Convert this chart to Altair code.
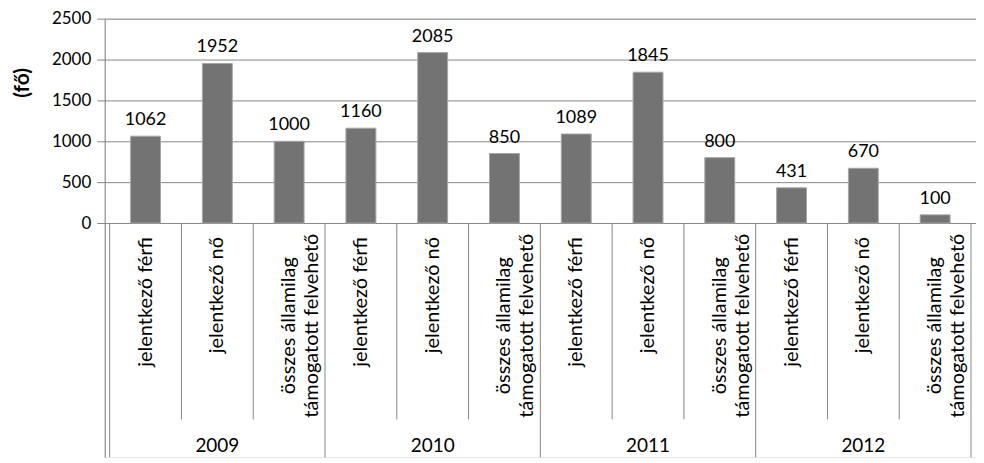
import altair as alt
import pandas as pd

years = ["2009", "2010", "2011", "2012"]
categories = ["jelentkező férfi", "jelentkező nő", "összes államilag\ntámogatott felvehető"]
values_2009 = [1062, 1952, 1000]
values_2010 = [1160, 2085, 850]
values_2011 = [1089, 1845, 800]
values_2012 = [431, 670, 100]
y_ticks = [0, 500, 1000, 1500, 2000, 2500]

all_values = [values_2009, values_2010, values_2011, values_2012]

rows = []
for gi, (yr, vals) in enumerate(zip(years, all_values)):
    for ci, (cat, v) in enumerate(zip(categories, vals)):
        idx = gi * len(categories) + ci
        rows.append({"year": yr, "cat": cat, "value": v, "center": idx + 0.5,
                     "multi": "\n" in cat})
df = pd.DataFrame(rows)
n = len(df)
ncat = len(categories)

year_df = pd.DataFrame({"year": years,
                        "center": [i * ncat + ncat / 2 for i in range(len(years))]})
inner_df = pd.DataFrame({"b": [i for i in range(1, n) if i % ncat != 0]})
group_df = pd.DataFrame({"b": [i for i in range(0, n + 1) if i % ncat == 0]})

TOP = 10           # top padding (page y of plot top = 8 + TOP)
W, H = 874, 440
ZERO_PX = 223 - 8 - TOP   # pixels from top of plot to the zero line
Y_MAX = 2500
Y_MIN = -(H - ZERO_PX) * Y_MAX / ZERO_PX

FONT = "Lato"
GRAY = "#878787"

xs = alt.Scale(domain=[0, n], nice=False, zero=False)
ys = alt.Scale(domain=[Y_MIN, Y_MAX], nice=False, zero=False)

bars = alt.Chart(df).mark_bar(size=30, color="#737373", stroke="#a6a6a6", strokeWidth=1).encode(
    x=alt.X("center:Q", scale=xs, axis=None),
    y=alt.Y("value:Q", scale=ys, axis=alt.Axis(
        values=y_ticks, format="d", grid=True, gridColor=GRAY, gridWidth=1,
        tickColor=GRAY, tickSize=8, domainColor=GRAY,
        labelFont=FONT, labelFontSize=17, labelColor="#000000", labelPadding=6,
        title="(fő)", titleFont=FONT, titleFontSize=21, titleFontWeight="bold",
        titleColor="#000000", titleX=-82, titleY=82 - 8 - TOP, titleBaseline="middle",
        titleAlign="center", titleAngle=270)),
    y2=alt.datum(0),
)

labels = alt.Chart(df).mark_text(baseline="alphabetic", dy=-11, font=FONT, fontSize=18,
                                 color="#000000").encode(
    x=alt.X("center:Q", scale=xs),
    y=alt.Y("value:Q", scale=ys),
    text="value:Q",
)

cat_single = alt.Chart(df[~df["multi"]]).mark_text(
    angle=270, align="right", baseline="middle", font=FONT, fontSize=20, color="#000000"
).encode(
    x=alt.X("center:Q", scale=xs),
    y=alt.value(237 - 8 - TOP),
    text="cat:N",
)

cat_multi = alt.Chart(df[df["multi"]]).mark_text(
    angle=270, align="center", baseline="middle", font=FONT, fontSize=20, color="#000000",
    lineBreak="\n", lineHeight=23
).encode(
    x=alt.X("center:Q", scale=xs),
    y=alt.value(326 - 8 - TOP),
    text="cat:N",
)

year_text = alt.Chart(year_df).mark_text(baseline="middle", font=FONT, fontSize=19,
                                         color="#000000").encode(
    x=alt.X("center:Q", scale=xs),
    y=alt.value(447 - 8 - TOP),
    text="year:N",
)

inner_rules = alt.Chart(inner_df).mark_rule(color=GRAY, strokeWidth=1).encode(
    x=alt.X("b:Q", scale=xs),
    y=alt.value(ZERO_PX),
    y2=alt.value(420 - 8 - TOP),
)

group_rules = alt.Chart(group_df).mark_rule(color=GRAY, strokeWidth=1).encode(
    x=alt.X("b:Q", scale=xs),
    y=alt.value(ZERO_PX),
    y2=alt.value(H),
)

chart = alt.layer(bars, labels, cat_single, cat_multi, year_text, inner_rules, group_rules).properties(
    width=W, height=H,
    autosize=alt.AutoSizeParams(type="none"),
    padding={"left": 97, "top": TOP, "right": 0, "bottom": 0},
).configure_view(stroke=None).configure(background="white")

chart.save("out.html", embed_options={"renderer": "svg", "actions": False})
